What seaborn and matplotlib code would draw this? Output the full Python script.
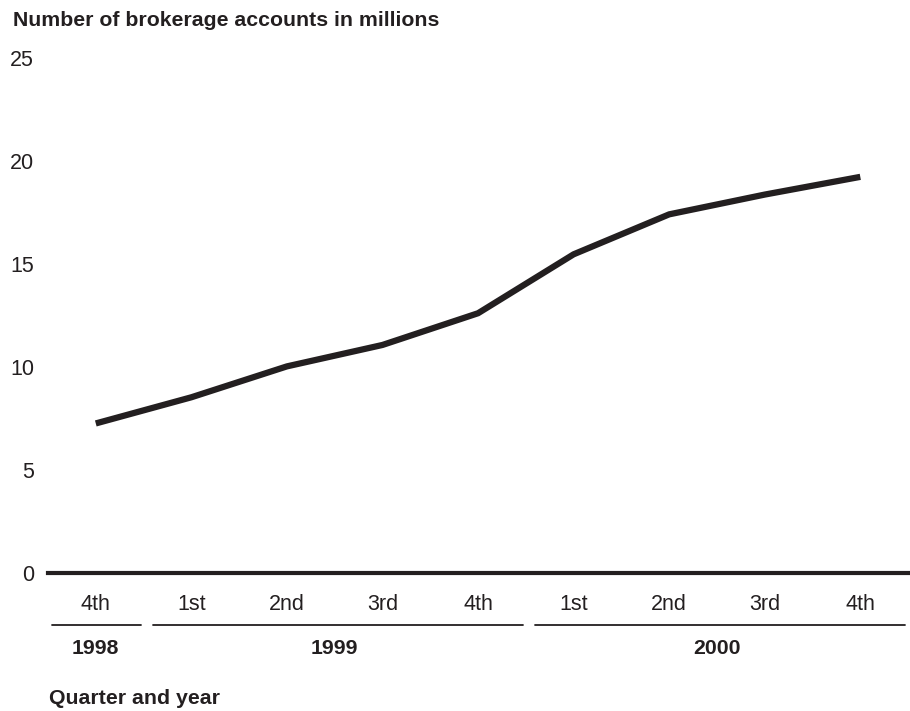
import matplotlib
matplotlib.use("Agg")
import matplotlib.pyplot as plt
import matplotlib.transforms as mtransforms
import seaborn as sns
import pandas as pd

# data
quarters = ["4th", "1st", "2nd", "3rd", "4th", "1st", "2nd", "3rd", "4th"]
years = ["1998", "1999", "1999", "1999", "1999", "2000", "2000", "2000", "2000"]
accounts = [7.26, 8.53, 10.03, 11.07, 12.61, 15.47, 17.41, 18.37, 19.23]

df = pd.DataFrame({"pos": range(len(quarters)), "accounts": accounts})

sns.set_style("white")
plt.rcParams["font.family"] = ["Liberation Sans", "DejaVu Sans"]

ink = "#231f20"
fig = plt.figure(figsize=(9.1, 7.11), dpi=100)
ax = fig.add_axes([48 / 910, 138 / 711, 1 - 48 / 910, 515 / 711])

sns.lineplot(data=df, x="pos", y="accounts", ax=ax, color=ink, linewidth=4.5,
             solid_joinstyle="miter", solid_capstyle="butt")

ax.set_xlim(-0.5, 8.52)
ax.set_ylim(0, 25)
ax.set_yticks([0, 5, 10, 15, 20, 25])
ax.set_xticks(range(len(quarters)))
ax.set_xticklabels(quarters)
ax.tick_params(axis="both", length=0, labelsize=15.5, labelcolor=ink)
ax.tick_params(axis="x", pad=15)
ax.tick_params(axis="y", pad=10)
for s in ["top", "right", "left"]:
    ax.spines[s].set_visible(False)
ax.spines["bottom"].set_linewidth(3)
ax.spines["bottom"].set_color(ink)
ax.set_xlabel("")
ax.set_ylabel("")

# year brackets under the quarter labels
trans = mtransforms.blended_transform_factory(ax.transData, ax.transAxes)
groups = []
for i, y in enumerate(years):
    if groups and groups[-1][0] == y:
        groups[-1][2] = i
    else:
        groups.append([y, i, i])
for k, (y, a, b) in enumerate(groups):
    left = 0.455 if k == 0 else 0.40
    ax.plot([a - left, b + 0.47], [-0.101, -0.101], transform=trans, color=ink,
            linewidth=1.3, clip_on=False)
    ax.text((a + b) / 2, -0.147, y, transform=trans, ha="center", va="center",
            fontsize=15.3, fontweight="bold", color=ink)

fig.text(13 / 910, 1 - 20 / 711, "Number of brokerage accounts in millions",
         ha="left", va="center", fontsize=15.3, fontweight="bold", color=ink)
fig.text(49 / 910, 1 - 698 / 711, "Quarter and year",
         ha="left", va="center", fontsize=15.3, fontweight="bold", color=ink)

fig.savefig("out.png", dpi=100)
